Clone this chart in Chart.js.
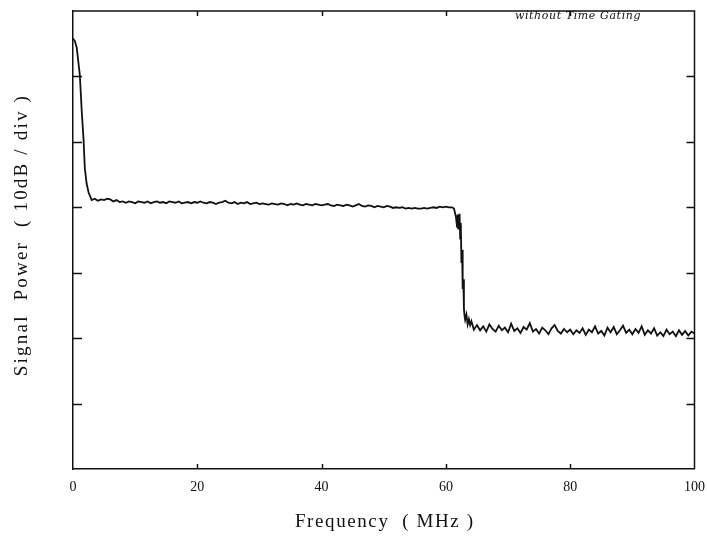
<!DOCTYPE html>
<html>
<head>
<meta charset="utf-8">
<script src="https://cdn.jsdelivr.net/npm/chart.js@4.4.1/dist/chart.umd.min.js"></script>
<style>
  html, body { margin: 0; padding: 0; background: #fff; }
  #wrap { width: 707px; height: 537px; }
</style>
</head>
<body>
<div id="wrap"><canvas id="spec" width="707" height="537"></canvas></div>
<script>
// Spectrum trace: frequency (MHz) and signal power (dB above the bottom of the screen)
const freqMHz = [
  0.0, 0.3, 0.6, 1.1, 1.4, 1.7, 1.9, 2.2, 2.5, 3.0,
  3.5, 4.0, 4.5, 5.0, 5.5, 6.0, 6.5, 7.0, 7.5, 8.0,
  8.5, 9.0, 9.5, 10.0, 10.5, 11.0, 11.5, 12.0, 12.5, 13.0,
  13.5, 14.0, 14.5, 15.0, 15.5, 16.0, 16.5, 17.0, 17.5, 18.0,
  18.5, 19.0, 19.5, 20.0, 20.5, 21.0, 21.5, 22.0, 22.5, 23.0,
  23.5, 24.0, 24.5, 25.0, 25.5, 26.0, 26.5, 27.0, 27.5, 28.0,
  28.5, 29.0, 29.5, 30.0, 30.5, 31.0, 31.5, 32.0, 32.5, 33.0,
  33.5, 34.0, 34.5, 35.0, 35.5, 36.0, 36.5, 37.0, 37.5, 38.0,
  38.5, 39.0, 39.5, 40.0, 40.5, 41.0, 41.5, 42.0, 42.5, 43.0,
  43.5, 44.0, 44.5, 45.0, 45.5, 46.0, 46.5, 47.0, 47.5, 48.0,
  48.5, 49.0, 49.5, 50.0, 50.5, 51.0, 51.5, 52.0, 52.5, 53.0,
  53.5, 54.0, 54.5, 55.0, 55.5, 56.0, 56.5, 57.0, 57.5, 58.0,
  58.5, 59.0, 59.5, 60.0, 60.5, 61.0, 61.3, 61.6, 61.8, 61.9,
  62.0, 62.2, 62.3, 62.4, 62.5, 62.6, 62.7, 62.8, 62.9, 63.0,
  63.1, 63.3, 63.5, 63.7, 63.9, 64.1, 64.5, 65.0, 65.5, 66.0,
  66.5, 67.0, 67.5, 68.0, 68.5, 69.0, 69.5, 70.0, 70.5, 71.0,
  71.5, 72.0, 72.5, 73.0, 73.5, 74.0, 74.5, 75.0, 75.5, 76.0,
  76.5, 77.0, 77.5, 78.0, 78.5, 79.0, 79.5, 80.0, 80.5, 81.0,
  81.5, 82.0, 82.5, 83.0, 83.5, 84.0, 84.5, 85.0, 85.5, 86.0,
  86.5, 87.0, 87.5, 88.0, 88.5, 89.0, 89.5, 90.0, 90.5, 91.0,
  91.5, 92.0, 92.5, 93.0, 93.5, 94.0, 94.5, 95.0, 95.5, 96.0,
  96.5, 97.0, 97.5, 98.0, 98.5, 99.0, 99.5, 100.0
];
const powerDb = [
  65.8, 65.4, 64.4, 60.2, 54.8, 50.3, 46.0, 43.6, 42.3, 41.1,
  41.3, 41.0, 41.2, 41.1, 41.3, 41.2, 40.9, 41.1, 40.8, 40.9,
  40.7, 40.9, 40.8, 40.6, 40.9, 40.8, 40.7, 40.9, 40.6, 40.8,
  40.9, 40.7, 40.8, 40.6, 40.9, 40.8, 40.7, 40.9, 40.6, 40.7,
  40.8, 40.6, 40.8, 40.7, 40.9, 40.7, 40.6, 40.8, 40.7, 40.5,
  40.7, 40.8, 41.0, 40.7, 40.6, 40.8, 40.5, 40.7, 40.6, 40.8,
  40.5, 40.6, 40.7, 40.5, 40.6, 40.5, 40.4, 40.6, 40.5, 40.4,
  40.6, 40.5, 40.3, 40.5, 40.4, 40.6, 40.4, 40.3, 40.5, 40.4,
  40.3, 40.5, 40.4, 40.3, 40.4, 40.5, 40.3, 40.2, 40.4, 40.3,
  40.2, 40.4, 40.3, 40.1, 40.3, 40.5, 40.2, 40.1, 40.3, 40.2,
  40.0, 40.2, 40.1, 40.0, 40.2, 40.1, 39.9, 40.0, 39.9, 40.0,
  39.8, 39.9, 39.8, 39.9, 39.8, 39.8, 39.9, 39.8, 39.9, 40.0,
  39.9, 40.1, 40.0, 40.1, 40.0, 40.0, 39.8, 38.6, 37.0, 38.9,
  36.6, 39.0, 35.2, 37.6, 31.5, 33.5, 27.5, 29.0, 24.5, 23.4,
  22.8, 23.6, 22.1, 22.9, 22.0, 22.6, 21.3, 22.0, 21.2, 21.8,
  21.0, 22.1, 21.4, 21.0, 21.9, 21.2, 21.6, 20.9, 22.2, 21.1,
  21.5, 20.8, 21.7, 21.3, 22.3, 21.0, 21.4, 20.7, 21.6, 21.2,
  20.6, 21.5, 22.0, 21.1, 20.7, 21.4, 20.9, 21.3, 20.6, 21.2,
  20.8, 21.5, 20.5, 21.3, 20.9, 21.8, 20.7, 21.1, 20.4, 21.6,
  20.9, 21.7, 20.6, 21.2, 21.9, 20.8, 21.3, 20.6, 21.4, 20.8,
  21.8, 20.5, 21.2, 20.7, 21.5, 20.4, 20.9, 20.3, 21.3, 20.6,
  21.0, 20.3, 21.2, 20.5, 21.1, 20.4, 21.0, 20.7
];
// Axis settings: 7 divisions of 10 dB each, frequency 0..100 MHz
const xTicks = [0, 20, 40, 60, 80, 100];
const yDivisions = [10, 20, 30, 40, 50, 60];
const xTitle = 'Frequency  ( MHz )';
const yTitle = 'Signal  Power  ( 10dB / div )';
const noteText = 'without Time Gating';

const serif = '"Liberation Serif", "Times New Roman", serif';

// Frame, inward-pointing ticks, axis titles and the corner note
const framePlugin = {
  id: 'frame',
  afterDraw(chart) {
    const { ctx, chartArea: a, scales } = chart;
    ctx.save();
    ctx.strokeStyle = '#111';
    ctx.lineWidth = 1.5;
    ctx.beginPath();
    ctx.moveTo(a.left, a.top);
    ctx.lineTo(a.right, a.top);
    ctx.lineTo(a.right, a.bottom);
    ctx.stroke();
    ctx.beginPath();
    yDivisions.forEach(v => {
      const y = Math.round(scales.y.getPixelForValue(v)) + 0.5;
      ctx.moveTo(a.left, y); ctx.lineTo(a.left + 9, y);
      ctx.moveTo(a.right, y); ctx.lineTo(a.right - 8, y);
    });
    xTicks.slice(1, -1).forEach(v => {
      const x = Math.round(scales.x.getPixelForValue(v)) + 0.5;
      ctx.moveTo(x, a.bottom); ctx.lineTo(x, a.bottom - 5);
      ctx.moveTo(x, a.top); ctx.lineTo(x, a.top + 5);
    });
    ctx.stroke();

    ctx.fillStyle = '#111';
    ctx.textAlign = 'center';
    ctx.textBaseline = 'middle';

    // corner note
    ctx.font = 'italic 11px "DejaVu Serif", serif';
    ctx.letterSpacing = '0.6px';
    ctx.fillText(noteText, 578, 16);

    // axis titles
    ctx.font = '19px ' + serif;
    ctx.letterSpacing = '1.6px';
    ctx.fillText(xTitle, (a.left + a.right) / 2 + 1, 522);
    ctx.letterSpacing = '2.2px';
    ctx.save();
    ctx.translate(22, (a.top + a.bottom) / 2 - 5);
    ctx.rotate(-Math.PI / 2);
    ctx.fillText(yTitle, 0, 0);
    ctx.restore();
    ctx.restore();
  }
};

new Chart(document.getElementById('spec'), {
  type: 'line',
  data: {
    datasets: [{
      data: freqMHz.map((f, i) => ({ x: f, y: powerDb[i] })),
      borderColor: '#111',
      borderWidth: 1.8,
      pointRadius: 0,
      tension: 0,
      fill: false
    }]
  },
  options: {
    responsive: false,
    animation: false,
    layout: { padding: { left: 0, top: 11, right: 7, bottom: 0 } },
    plugins: { legend: { display: false }, tooltip: { enabled: false } },
    scales: {
      x: {
        type: 'linear',
        min: 0, max: 100,
        afterBuildTicks(scale) { scale.ticks = xTicks.map(v => ({ value: v })); },
        afterFit(scale) { scale.height = 68; },
        grid: { display: false },
        border: { display: true, color: '#111', width: 1.5 },
        ticks: { color: '#111', padding: 2, font: { family: serif, size: 14 }, maxRotation: 0 }
      },
      y: {
        type: 'linear',
        min: 0, max: 70,
        afterFit(scale) { scale.width = 73; },
        grid: { display: false },
        border: { display: true, color: '#111', width: 1.5 },
        ticks: { display: false }
      }
    }
  },
  plugins: [framePlugin]
});
</script>
</body>
</html>
